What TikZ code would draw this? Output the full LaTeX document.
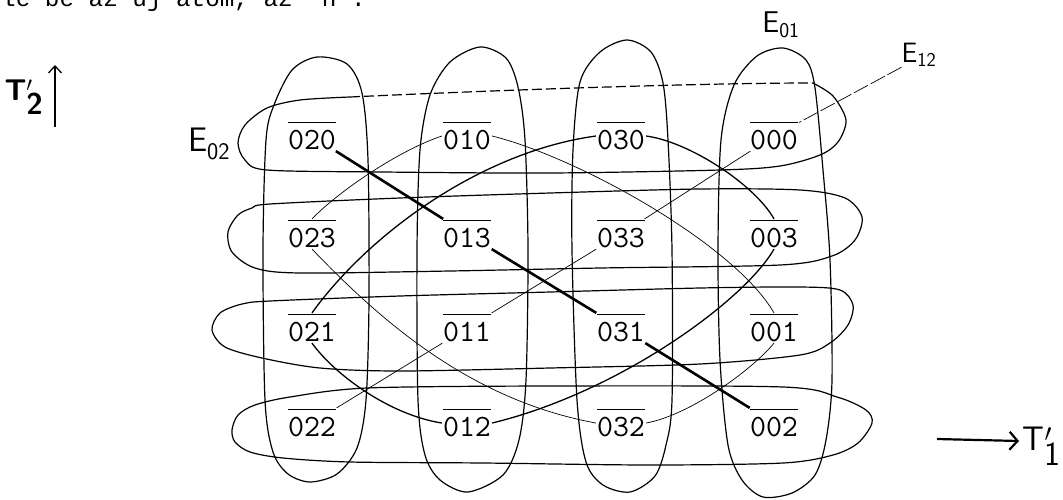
\documentclass[tikz,border=0pt]{standalone}
\usepackage{fontspec}
\newfontfamily\typew{Liberation Mono}
\usetikzlibrary{arrows.meta}
\newcommand\lab[1]{\vbox{\hrule height 1.1pt\kern 7pt\hbox{#1}}}
\begin{document}
\begin{tikzpicture}[x=1pt,y=-1pt,
  lab/.style={inner sep=1pt,font=\fontsize{31}{31}\selectfont\ttfamily},
  ring/.style={line width=1.2pt},
  thickE/.style={line width=2.6pt},
  medE/.style={line width=1.3pt},
  thinE/.style={line width=0.7pt},
  hand/.style={inner sep=0pt,font=\fontsize{#1}{#1}\selectfont\sffamily},
  hand/.default=30]
\useasboundingbox (0,0) rectangle (1063,499);

% cut-off typed line at the top
\node[anchor=base west,inner sep=0pt,font=\fontsize{24.3}{24}\selectfont\typew] (toptext) at (1,6.5) {le be az uj atom, az "n".};

% labels
\foreach \x/\c in {312/0,467/1,621/2,774/3}{
  \foreach \y/\r in {136/0,234/1,328/2,423/3}{
    \coordinate (p\c\r) at (\x,\y);
  }
}
\node[lab] (n020) at (p00) {\lab{020}};
\node[lab] (n010) at (p10) {\lab{010}};
\node[lab] (n030) at (p20) {\lab{030}};
\node[lab] (n000) at (p30) {\lab{000}};
\node[lab] (n023) at (p01) {\lab{023}};
\node[lab] (n013) at (p11) {\lab{013}};
\node[lab] (n033) at (p21) {\lab{033}};
\node[lab] (n003) at (p31) {\lab{003}};
\node[lab] (n021) at (p02) {\lab{021}};
\node[lab] (n011) at (p12) {\lab{011}};
\node[lab] (n031) at (p22) {\lab{031}};
\node[lab] (n001) at (p32) {\lab{001}};
\node[lab] (n022) at (p03) {\lab{022}};
\node[lab] (n012) at (p13) {\lab{012}};
\node[lab] (n032) at (p23) {\lab{032}};
\node[lab] (n002) at (p33) {\lab{002}};

% vertical loops (E01)
\draw[ring] plot[smooth cycle] coordinates {(317,57) (347,64) (362,93) (368,160) (369,300) (366,400) (357,448) (337,474) (310,482) (288,474) (273,452) (265,400) (263,250) (266,140) (274,105) (292,70)};
\draw[ring] plot[smooth cycle] coordinates {(480,47) (506,58) (518,87) (525,140) (528,250) (526,380) (519,440) (503,475) (468,492) (440,480) (425,455) (418,400) (417,250) (420,150) (430,95) (450,62)};
\draw[ring] plot[smooth cycle] coordinates {(627,40) (651,52) (663,83) (668,140) (672,250) (672,400) (666,445) (655,476) (630,492) (603,485) (586,462) (577,400) (572,250) (573,150) (580,82) (600,52)};
\draw[ring] plot[smooth cycle] coordinates {(783,48) (806,60) (815,88) (823,170) (830,260) (832,380) (826,440) (815,475) (792,493) (763,497) (742,480) (728,445) (720,360) (718,250) (721,140) (734,85) (757,56)};

% horizontal loops (E02)
\draw[ring] plot[smooth] coordinates {(813,83) (833,96) (846,120) (838,142) (820,155) (780,166) (720,170) (550,173) (383,172) (267,170) (245,160) (238,143) (245,125) (267,108) (300,100) (350,97)};
\draw[ring,dash pattern=on 10pt off 4pt] (350,97) .. controls (500,90) and (700,83) .. (813,83);
\draw[ring] plot[smooth cycle] coordinates {(270,204) (400,198) (550,193) (700,189) (800,190) (845,198) (862,217) (855,240) (832,256) (780,265) (600,268) (450,271) (300,273) (255,268) (232,252) (228,232) (238,215) (252,208)};
\draw[ring] plot[smooth cycle] coordinates {(270,301) (400,296) (550,292) (700,288) (800,287) (840,290) (853,305) (848,325) (830,343) (800,355) (700,364) (550,368) (400,371) (320,368) (262,358) (225,347) (212,330) (220,313) (242,304)};
\draw[ring] plot[smooth cycle] coordinates {(290,397) (367,388) (550,386) (783,387) (837,397) (866,410) (872,423) (858,443) (833,455) (783,463) (650,465) (483,463) (350,462) (283,458) (250,452) (235,442) (232,430) (238,415) (255,405)};

% E12 cosets
\draw[thickE] (n020) -- (n013);
\draw[thickE] (n013) -- (n031);
\draw[thickE] (n031) -- (n002);

\draw[thinE] (n000) -- (n033);
\draw[thinE] (n033) -- (n011);
\draw[thinE] (n011) -- (n022);

\draw[medE] (n030.west) .. controls (480,152) and (368,235) .. (n021.north);
\draw[medE] (n030.east) .. controls (690,142) and (755,185) .. (n003.north);
\draw[medE] (n003.south) .. controls (745,300) and (620,392) .. (n012.east);
\draw[medE] (n012.west) .. controls (390,415) and (335,375) .. (n021.south);

\draw[thinE] (n010.west) .. controls (400,150) and (340,190) .. (n023.north);
\draw[thinE] (n010.east) .. controls (580,158) and (735,245) .. (n001.north);
\draw[thinE] (n023.south) .. controls (380,320) and (470,400) .. (n032.west);
\draw[thinE] (n032.east) .. controls (690,415) and (752,370) .. (n001.south);

% names
\node[hand=30] (e01) at (781,25) {E\textsubscript{01}};
\node[hand=28] (e12) at (919,55) {E\textsubscript{12}};
\node[hand=34] (e02) at (209,144) {E\textsubscript{02}};
\draw[thinE,dash pattern=on 16pt off 3pt] (e12.south west) -- (n000);

% axes
\node[inner sep=0pt,font=\fontsize{30}{30}\selectfont\sffamily\bfseries] (t2) at (24,97) {T$_{\textsf{\textbf{2}}}^{\prime}$};
\coordinate (t2a) at (55,127);
\coordinate (t2b) at (55,65);
\draw[line width=1.3pt,-{Straight Barb[length=7pt,width=13pt]}] (t2a) -- (t2b);

\node[inner sep=0pt,font=\fontsize{34}{34}\selectfont\sffamily] (t1) at (1042,446) {T$_{\textsf{1}}^{\prime}$};
\coordinate (t1a) at (937,439);
\coordinate (t1b) at (1019,441);
\draw[line width=2.2pt,-{Straight Barb[length=8pt,width=18pt]}] (t1a) -- (t1b);
\end{tikzpicture}
\end{document}
